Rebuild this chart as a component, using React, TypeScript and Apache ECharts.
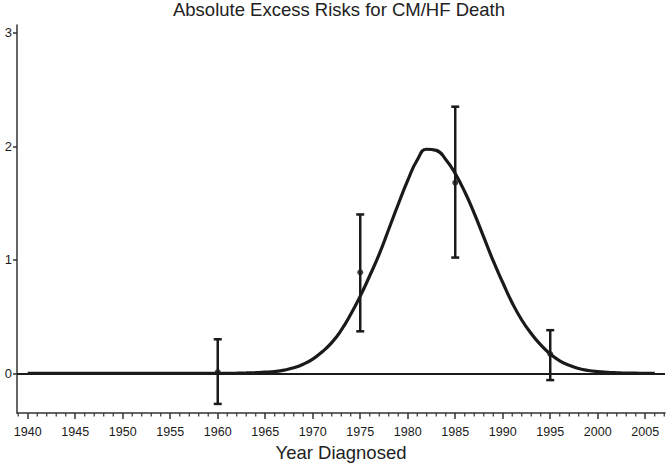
import React, { useEffect, useRef } from "react";
import * as echarts from "echarts";

const curveYears = [
  1940, 1941, 1942, 1943, 1944, 1945, 1946, 1947, 1948, 1949, 1950, 1951, 1952, 1953, 1954, 1955,
  1956, 1957, 1958, 1959, 1960, 1961, 1962, 1963, 1964, 1965, 1966, 1967, 1968, 1969, 1970, 1971,
  1972, 1973, 1974, 1975, 1976, 1977, 1978, 1979, 1980, 1981, 1982, 1983, 1984, 1985, 1986, 1987,
  1988, 1989, 1990, 1991, 1992, 1993, 1994, 1995, 1996, 1997, 1998, 1999, 2000, 2001, 2002, 2003,
  2004, 2005, 2006,
];
const curveValues = [
  0, 0, 0, 0, 0, 0, 0, 0, 0, 0, 0, 0, 0, 0, 0, 0,
  0, 0, 0, 0, 0, 0, 0.001, 0.003, 0.006, 0.01, 0.016, 0.028, 0.048, 0.08, 0.125, 0.19,
  0.27, 0.38, 0.52, 0.68, 0.86, 1.05, 1.27, 1.49, 1.7, 1.88, 1.975, 1.965, 1.885, 1.76, 1.6, 1.41,
  1.2, 0.99, 0.8, 0.62, 0.47, 0.35, 0.25, 0.17, 0.11, 0.07, 0.042, 0.025, 0.015, 0.009, 0.005, 0.002,
  0.001, 0, 0,
];

const pointYears = [1960, 1975, 1985, 1995];
const pointValues = [0.01, 0.89, 1.68, 0.17];
const lowerValues = [-0.27, 0.37, 1.02, -0.06];
const upperValues = [0.3, 1.4, 2.35, 0.38];

const majorTicks = [1940, 1945, 1950, 1955, 1960, 1965, 1970, 1975, 1980, 1985, 1990, 1995, 2000, 2005];
const minorTicks = [
  1939, 1941, 1942, 1943, 1944, 1946, 1947, 1948, 1949, 1951, 1952, 1953, 1954,
  1956, 1957, 1958, 1959, 1961, 1962, 1963, 1964, 1966, 1967, 1968, 1969,
  1971, 1972, 1973, 1974, 1976, 1977, 1978, 1979, 1981, 1982, 1983, 1984, 1986,
  1987, 1988, 1989, 1991, 1992, 1993, 1994, 1996, 1997, 1998, 1999, 2001, 2002,
  2003, 2004, 2006, 2007,
];
const yTicks = [0, 1, 2, 3];

const FONT = "'Liberation Sans', Arial, sans-serif";
const INK = "#1a1a1a";
const Y_MIN = -0.35;
const Y_MAX = 3.07;

export default function App() {
  const ref = useRef<HTMLDivElement>(null);
  useEffect(() => {
    if (!ref.current) return;
    const chart = echarts.init(ref.current, undefined, { renderer: "svg" });
    const xMin = 1938.87;
    const xMax = 2007.08;
    chart.setOption({
      animation: false,
      backgroundColor: "#ffffff",
      textStyle: { fontFamily: FONT },
      grid: { left: 17, right: 1, top: 25, bottom: 51 },
      xAxis: {
        type: "value",
        min: xMin,
        max: xMax,
        position: "bottom",
        splitLine: { show: false },
        axisLine: { show: true, onZero: false, lineStyle: { color: "#333", width: 1.5 } },
        axisTick: { show: true, length: 6, customValues: majorTicks, lineStyle: { color: "#333", width: 1.5 } },
        axisLabel: {
          customValues: majorTicks,
          margin: 12,
          fontSize: 12.5,
          color: INK,
          fontFamily: FONT,
          formatter: (v: number) => String(Math.round(v)),
        },
      },
      yAxis: {
        type: "value",
        min: Y_MIN,
        max: Y_MAX,
        splitLine: { show: false },
        axisLine: { show: true, onZero: false, lineStyle: { color: "#333", width: 1.5 } },
        axisTick: { show: true, length: 4, customValues: yTicks, lineStyle: { color: "#333", width: 1.5 } },
        axisLabel: { customValues: yTicks, margin: 5, fontSize: 13, color: INK, fontFamily: FONT },
      },
      series: [
        {
          type: "line",
          data: [],
          markLine: {
            silent: true,
            symbol: "none",
            label: { show: false },
            lineStyle: { color: INK, width: 2, type: "solid" },
            data: [{ yAxis: 0 }],
          },
        },
        {
          type: "custom",
          clip: false,
          silent: true,
          data: minorTicks.filter((v) => v > xMin && v < xMax).map((v) => [v]),
          renderItem: (params: any, api: any) => {
            const p = api.coord([api.value(0), Y_MIN]);
            return {
              type: "line",
              shape: { x1: p[0], y1: p[1], x2: p[0], y2: p[1] + 3.5 },
              style: { stroke: "#333", lineWidth: 1.2 },
            };
          },
        },
        {
          type: "line",
          data: curveYears.map((y, i) => [y, curveValues[i]]),
          smooth: 0.5,
          showSymbol: false,
          lineStyle: { color: INK, width: 3.2 },
        },
        {
          type: "custom",
          data: pointYears.map((y, i) => [y, lowerValues[i], upperValues[i]]),
          renderItem: (params: any, api: any) => {
            const x = api.value(0);
            const lo = api.coord([x, api.value(1)]);
            const hi = api.coord([x, api.value(2)]);
            const hw = 4;
            const st = { stroke: INK, lineWidth: 2.5 };
            return {
              type: "group",
              children: [
                { type: "line", shape: { x1: lo[0], y1: lo[1], x2: hi[0], y2: hi[1] }, style: st },
                { type: "line", shape: { x1: lo[0] - hw, y1: lo[1], x2: lo[0] + hw, y2: lo[1] }, style: st },
                { type: "line", shape: { x1: hi[0] - hw, y1: hi[1], x2: hi[0] + hw, y2: hi[1] }, style: st },
              ],
            };
          },
          z: 3,
        },
        {
          type: "scatter",
          data: pointYears.map((y, i) => [y, pointValues[i]]),
          symbol: "circle",
          symbolSize: 6,
          itemStyle: { color: INK },
          z: 4,
        },
      ],
      graphic: [
        {
          type: "text",
          x: 339,
          y: 9.5,
          style: {
            text: "Absolute Excess Risks for CM/HF Death",
            fontSize: 18.5,
            fontFamily: FONT,
            fill: "#222",
            align: "center",
            verticalAlign: "middle",
          },
        },
        {
          type: "text",
          x: 341,
          y: 452,
          style: {
            text: "Year Diagnosed",
            fontSize: 18.5,
            fontFamily: FONT,
            fill: "#222",
            align: "center",
            verticalAlign: "middle",
          },
        },
      ],
    });
    return () => chart.dispose();
  }, []);
  return <div ref={ref} style={{ width: 666, height: 464, position: "absolute", left: 0, top: 0 }} />;
}
